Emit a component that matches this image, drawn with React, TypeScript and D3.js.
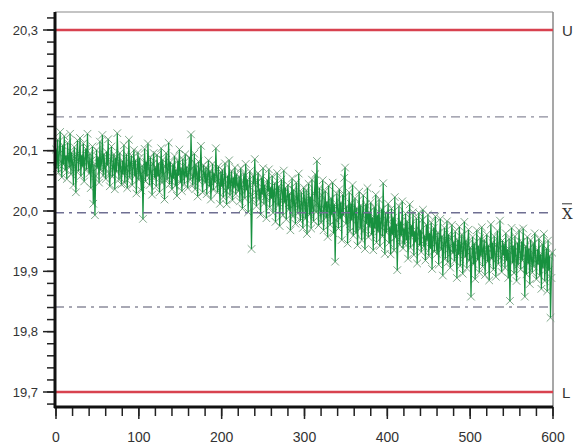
import React from "react";
import * as d3 from "d3";

const values: number[] = [
  20.102, 20.071, 20.118, 20.064, 20.095, 20.131, 20.082, 20.056, 20.109, 20.077, 20.124, 20.068, 20.091, 20.053, 20.113, 20.086, 20.072, 20.128, 20.061, 20.097,
  20.079, 20.043, 20.106, 20.088, 20.031, 20.094, 20.117, 20.066, 20.083, 20.121, 20.058, 20.092, 20.074, 20.112, 20.049, 20.087, 20.103, 20.069, 20.128, 20.081,
  20.062, 20.095, 20.038, 20.084, 20.107, 20.012, 20.076, 19.993, 20.058, 20.101, 20.072, 20.089, 20.047, 20.115, 20.068, 20.081, 20.126, 20.059, 20.094, 20.071,
  20.053, 20.098, 20.076, 20.119, 20.062, 20.041, 20.085, 20.107, 20.057, 20.073, 20.094, 20.036, 20.088, 20.065, 20.129, 20.079, 20.052, 20.096, 20.071, 20.044,
  20.083, 20.061, 20.109, 20.047, 20.072, 20.094, 20.038, 20.066, 20.118, 20.055, 20.079, 20.092, 20.043, 20.071, 20.101, 20.058, 20.084, 20.029, 20.069, 20.097,
  20.052, 20.088, 20.061, 20.034, 20.075, 19.987, 20.066, 20.103, 20.049, 20.081, 20.058, 20.112, 20.071, 20.043, 20.089, 20.064, 20.027, 20.078, 20.096, 20.055,
  20.072, 20.041, 20.093, 20.058, 20.079, 20.031, 20.066, 20.104, 20.047, 20.085, 20.061, 20.019, 20.074, 20.096, 20.052, 20.068, 20.113, 20.044, 20.081, 20.059,
  20.036, 20.077, 20.054, 20.091, 20.042, 20.068, 20.025, 20.083, 20.059, 20.102, 20.047, 20.071, 20.033, 20.086, 20.062, 20.045, 20.094, 20.057, 20.073, 20.038,
  20.064, 20.089, 20.052, 20.127, 20.071, 20.043, 20.058, 20.095, 20.036, 20.077, 20.061, 20.024, 20.082, 20.049, 20.069, 20.108, 20.054, 20.031, 20.076, 20.063,
  20.047, 20.072, 20.028, 20.059, 20.084, 20.041, 20.066, 20.019, 20.053, 20.078, 20.035, 20.062, 20.048, 20.104, 20.057, 20.031, 20.074, 20.046, 20.012, 20.065,
  20.041, 20.068, 20.023, 20.052, 20.079, 20.034, 20.011, 20.058, 20.037, 20.084, 20.026, 20.049, 20.066, 20.018, 20.055, 20.039, 20.072, 20.028, 20.061, 20.044,
  20.033, 20.057, 20.016, 20.071, 20.039, 20.004, 20.048, 20.062, 20.021, 20.078, 20.035, 20.052, 19.998, 20.041, 20.066, 20.027, 19.937, 20.019, 20.058, 20.045,
  20.086, 20.031, 20.008, 20.047, 20.063, 20.019, 20.036, 19.994, 20.055, 20.028, 20.071, 20.012, 20.043, 20.024, 19.988, 20.051, 20.033, 20.069, 20.006, 20.039,
  20.021, 20.058, 19.997, 20.034, 20.046, 19.982, 20.027, 20.063, 20.009, 20.041, 19.975, 20.018, 20.052, 20.031, 19.993, 20.067, 20.014, 20.038, 19.986, 20.024,
  20.043, 20.002, 20.029, 19.968, 20.016, 20.054, 19.991, 20.035, 20.011, 19.979, 20.047, 20.021, 19.996, 20.062, 20.007, 19.984, 20.031, 20.013, 19.972, 20.039,
  20.018, 19.987, 20.034, 19.962, 20.009, 20.045, 19.994, 20.023, 19.971, 20.052, 20.006, 19.983, 20.029, 20.061, 19.998, 20.083, 20.012, 19.976, 20.038, 20.003,
  19.981, 20.026, 20.051, 19.968, 20.004, 20.033, 19.989, 20.015, 19.957, 20.042, 20.008, 19.977, 20.021, 19.994, 20.047, 19.963, 20.011, 19.916, 19.985, 20.029,
  20.002, 19.971, 20.036, 19.988, 20.014, 19.952, 20.027, 19.993, 20.055, 20.072, 19.979, 20.008, 19.946, 19.998, 20.031, 19.967, 20.012, 19.985, 20.043, 19.959,
  19.996, 20.021, 19.964, 20.005, 19.943, 19.988, 20.032, 19.971, 20.009, 19.952, 19.993, 20.026, 19.968, 19.937, 20.011, 19.979, 20.038, 19.957, 19.998, 19.974,
  20.014, 19.961, 19.989, 19.935, 20.006, 19.972, 20.027, 19.948, 19.993, 19.966, 20.019, 19.942, 19.981, 20.003, 19.958, 20.046, 19.976, 19.929, 19.997, 19.964,
  19.985, 20.012, 19.947, 19.973, 19.928, 20.004, 19.961, 19.989, 19.935, 20.023, 19.956, 19.978, 19.902, 19.967, 20.008, 19.944, 19.982, 19.959, 20.016, 19.938,
  19.971, 19.945, 19.996, 19.952, 19.983, 19.921, 19.964, 20.011, 19.939, 19.976, 19.958, 19.998, 19.927, 19.966, 19.949, 19.988, 19.913, 19.961, 19.997, 19.943,
  19.968, 19.932, 19.985, 20.002, 19.941, 19.959, 19.918, 19.977, 19.951, 19.994, 19.926, 19.963, 19.938, 19.981, 19.904, 19.956, 19.972, 19.933, 19.991, 19.947,
  19.929, 19.964, 19.911, 19.953, 19.987, 19.936, 19.958, 19.893, 19.945, 19.972, 19.921, 19.949, 19.983, 19.915, 19.961, 19.938, 19.906, 19.954, 19.977, 19.931,
  19.948, 19.917, 19.966, 19.935, 19.889, 19.952, 19.928, 19.974, 19.909, 19.943, 19.961, 19.896, 19.937, 19.982, 19.924, 19.951, 19.905, 19.944, 19.969, 19.918,
  19.939, 19.858, 19.924, 19.957, 19.912, 19.946, 19.887, 19.931, 19.968, 19.919, 19.942, 19.898, 19.955, 19.926, 19.973, 19.908, 19.937, 19.952, 19.894, 19.929,
  19.961, 19.916, 19.943, 19.885, 19.934, 19.978, 19.921, 19.947, 19.903, 19.958, 19.929, 19.891, 19.944, 19.967, 19.912, 19.938, 19.984, 19.923, 19.899, 19.951,
  19.927, 19.945, 19.906, 19.963, 19.918, 19.936, 19.889, 19.954, 19.851, 19.931, 19.972, 19.914, 19.942, 19.897, 19.958, 19.925, 19.884, 19.947, 19.911, 19.968,
  19.932, 19.903, 19.949, 19.918, 19.971, 19.926, 19.858, 19.941, 19.895, 19.957, 19.913, 19.937, 19.879, 19.952, 19.921, 19.898, 19.946, 19.908, 19.963, 19.924,
  19.887, 19.936, 19.912, 19.954, 19.893, 19.928, 19.871, 19.945, 19.906, 19.962, 19.884, 19.919, 19.938, 19.867, 19.951, 19.902, 19.925, 19.823, 19.889, 19.931,
];

const controlLimits = [
  { label: "U", value: 20.3, kind: "limit" },
  { label: "X̄", value: 19.997, kind: "mean" },
  { label: "L", value: 19.7, kind: "limit" },
];
const warningLines = [20.156, 19.841];
const yTickValues = [19.7, 19.8, 19.9, 20.0, 20.1, 20.2, 20.3];
const xTickValues = [0, 100, 200, 300, 400, 500, 600];

const W = 576;
const H = 446;
const left = 55;
const right = 553;
const top = 12;
const bottom = 407;

export default function App() {
  const x = d3.scaleLinear().domain([0, 600]).range([left + 1, right]);
  const y = d3.scaleLinear().domain([19.7, 20.3]).range([392, 30]);

  const line = d3
    .line<number>()
    .x((_, i) => x(i))
    .y((d) => y(d));

  const yMinor = d3.range(19.68, 20.33, 0.02).map((v) => +v.toFixed(2));
  const xMinor = d3.range(0, 601, 20);
  const fmt = (v: number) => v.toFixed(1).replace(".", ",");
  const font = "'Liberation Sans', Arial, sans-serif";
  const m = 3.8;

  return (
    <svg width={W} height={H} style={{ position: "absolute", left: 0, top: 0, background: "#fff" }}>
      <rect x={0} y={0} width={W} height={H} fill="#fff" />
      {/* frame */}
      <line x1={left} x2={right} y1={top} y2={top} stroke="#8a8a8a" strokeWidth={1.2} />
      <line x1={right} x2={right} y1={top} y2={bottom} stroke="#8a8a8a" strokeWidth={1.5} />

      {/* warning lines */}
      {warningLines.map((v, i) => (
        <line key={"w" + i} x1={left} x2={right} y1={y(v)} y2={y(v)} stroke="#8c8c9c" strokeWidth={1.4} strokeDasharray="9,5,3,5" />
      ))}

      {/* data */}
      <g>
        {values.map((v, i) => (
          <path
            key={"m" + i}
            d={`M${x(i) - m},${y(v) - m}L${x(i) + m},${y(v) + m}M${x(i) - m},${y(v) + m}L${x(i) + m},${y(v) - m}`}
            stroke="#6f9d7c"
            strokeWidth={0.9}
            fill="none"
          />
        ))}
        <path d={line(values) || ""} fill="none" stroke="#17913f" strokeWidth={1.2} />
      </g>

      {/* control lines */}
      {controlLimits.map((c) =>
        c.kind === "limit" ? (
          <line key={c.label} x1={left} x2={right} y1={y(c.value)} y2={y(c.value)} stroke="#d8424f" strokeWidth={2.5} />
        ) : (
          <line key={c.label} x1={left} x2={right} y1={y(c.value)} y2={y(c.value)} stroke="#6f6f92" strokeWidth={1.6} strokeDasharray="9,5,3,5" />
        )
      )}
      {controlLimits.map((c) =>
        c.kind === "mean" ? (
          <g key={"l" + c.label}>
            <text x={562} y={y(c.value) + 6} fontFamily="'DejaVu Serif', serif" fontSize={15} fill="#333">X</text>
            <line x1={562} x2={572} y1={y(c.value) - 9} y2={y(c.value) - 9} stroke="#333" strokeWidth={1} />
          </g>
        ) : (
          <text key={"l" + c.label} x={562} y={y(c.value) + 6} fontFamily={font} fontSize={15} fill="#333">{c.label}</text>
        )
      )}

      {/* y axis */}
      {yMinor.map((v) => (
        <line key={"ym" + v} x1={47} x2={left} y1={y(v)} y2={y(v)} stroke="#222" strokeWidth={1.5} />
      ))}
      {yTickValues.map((v) => (
        <g key={"yt" + v}>
          <line x1={43} x2={left} y1={y(v)} y2={y(v)} stroke="#222" strokeWidth={1.5} />
          <text x={38} y={y(v) + 4.5} textAnchor="end" fontFamily={font} fontSize={13} fill="#333">{fmt(v)}</text>
        </g>
      ))}
      <line x1={left} x2={left} y1={top} y2={bottom + 1} stroke="#111" strokeWidth={3} />

      {/* x axis */}
      {xMinor.map((v) => (
        <line key={"xm" + v} x1={x(v)} x2={x(v)} y1={bottom} y2={bottom + 9} stroke="#222" strokeWidth={1.5} />
      ))}
      {xTickValues.map((v) => (
        <g key={"xt" + v}>
          <line x1={x(v)} x2={x(v)} y1={bottom} y2={bottom + 12} stroke="#222" strokeWidth={1.5} />
          <text x={x(v)} y={442} textAnchor="middle" fontFamily={font} fontSize={14} fill="#333">{v}</text>
        </g>
      ))}
      <line x1={left - 1} x2={right} y1={bottom} y2={bottom} stroke="#111" strokeWidth={3} />
    </svg>
  );
}
